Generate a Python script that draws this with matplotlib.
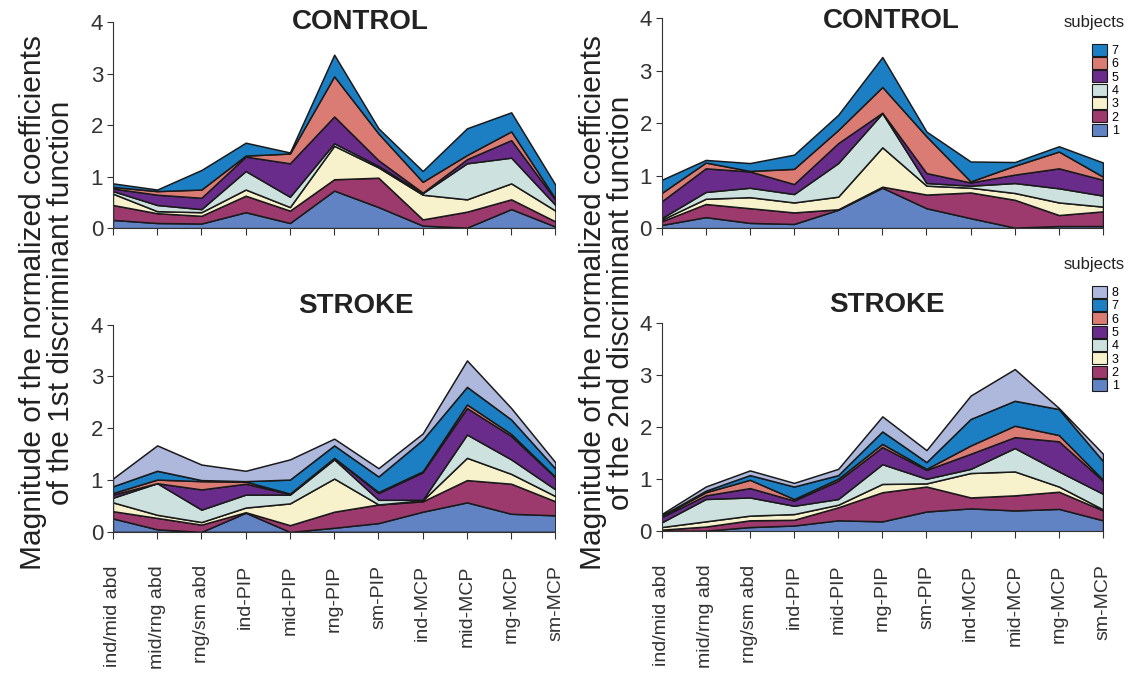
import matplotlib
matplotlib.use('Agg')
import matplotlib.pyplot as plt
from matplotlib.patches import Patch

plt.rcParams['font.family'] = ['Liberation Sans', 'DejaVu Sans']

joints = ['ind/mid abd', 'mid/rng abd', 'rng/sm abd', 'ind-PIP', 'mid-PIP', 'rng-PIP',
          'sm-PIP', 'ind-MCP', 'mid-MCP', 'rng-MCP', 'sm-MCP']

colores = ['#6283C3', '#9C3A6E', '#F7F1CC', '#CDE2DF', '#6A2C8A', '#DB7C74', '#1C7EC3', '#AEB8DD']

# controlo - 1a funcao discriminante (sujeitos 1..7)
ctrl1 = [
    [0.16, 0.10, 0.09, 0.31, 0.10, 0.73, 0.41, 0.05, 0.01, 0.37, 0.03],
    [0.29, 0.19, 0.15, 0.32, 0.24, 0.22, 0.57, 0.12, 0.31, 0.19, 0.10],
    [0.22, 0.04, 0.07, 0.12, 0.07, 0.65, 0.20, 0.48, 0.24, 0.31, 0.21],
    [0.05, 0.12, 0.06, 0.36, 0.20, 0.05, 0.03, 0.03, 0.70, 0.50, 0.11],
    [0.05, 0.20, 0.22, 0.28, 0.65, 0.52, 0.11, 0.01, 0.08, 0.34, 0.10],
    [0.03, 0.07, 0.16, 0.02, 0.19, 0.78, 0.52, 0.21, 0.08, 0.17, 0.02],
    [0.07, 0.03, 0.38, 0.25, 0.02, 0.42, 0.10, 0.21, 0.52, 0.37, 0.27],
]

# controlo - 2a funcao discriminante
ctrl2 = [
    [0.06, 0.21, 0.10, 0.08, 0.35, 0.77, 0.38, 0.19, 0.01, 0.04, 0.04],
    [0.07, 0.25, 0.28, 0.22, 0.01, 0.02, 0.26, 0.49, 0.53, 0.21, 0.28],
    [0.03, 0.10, 0.21, 0.19, 0.24, 0.75, 0.17, 0.09, 0.13, 0.24, 0.09],
    [0.03, 0.13, 0.18, 0.16, 0.64, 0.65, 0.05, 0.04, 0.19, 0.27, 0.21],
    [0.32, 0.45, 0.31, 0.19, 0.38, 0.01, 0.19, 0.06, 0.16, 0.38, 0.30],
    [0.16, 0.11, 0.01, 0.29, 0.25, 0.49, 0.70, 0.02, 0.17, 0.32, 0.06],
    [0.25, 0.05, 0.15, 0.27, 0.29, 0.57, 0.09, 0.38, 0.07, 0.10, 0.27],
]

# AVC - 1a funcao discriminante (sujeitos 1..8)
avc1 = [
    [0.26, 0.05, 0.00, 0.37, 0.00, 0.08, 0.17, 0.39, 0.57, 0.35, 0.32],
    [0.14, 0.22, 0.14, 0.01, 0.13, 0.31, 0.36, 0.20, 0.43, 0.58, 0.27],
    [0.17, 0.06, 0.05, 0.09, 0.42, 0.64, 0.00, 0.02, 0.43, 0.19, 0.10],
    [0.09, 0.61, 0.24, 0.25, 0.17, 0.37, 0.09, 0.01, 0.45, 0.28, 0.13],
    [0.06, 0.00, 0.39, 0.21, 0.01, 0.03, 0.13, 0.53, 0.51, 0.45, 0.23],
    [0.03, 0.07, 0.16, 0.04, 0.01, 0.00, 0.02, 0.02, 0.07, 0.04, 0.01],
    [0.13, 0.17, 0.02, 0.01, 0.27, 0.24, 0.30, 0.61, 0.34, 0.28, 0.16],
    [0.15, 0.49, 0.30, 0.20, 0.39, 0.13, 0.16, 0.12, 0.51, 0.22, 0.12],
]

# AVC - 2a funcao discriminante
avc2 = [
    [0.01, 0.01, 0.08, 0.11, 0.21, 0.19, 0.38, 0.44, 0.40, 0.43, 0.21],
    [0.02, 0.08, 0.13, 0.11, 0.25, 0.56, 0.48, 0.21, 0.29, 0.33, 0.19],
    [0.05, 0.10, 0.09, 0.11, 0.05, 0.16, 0.06, 0.47, 0.46, 0.10, 0.02],
    [0.09, 0.43, 0.35, 0.16, 0.11, 0.38, 0.09, 0.08, 0.45, 0.29, 0.30],
    [0.10, 0.07, 0.18, 0.10, 0.35, 0.33, 0.17, 0.29, 0.21, 0.58, 0.25],
    [0.02, 0.06, 0.16, 0.03, 0.04, 0.06, 0.02, 0.16, 0.22, 0.12, 0.02],
    [0.01, 0.03, 0.09, 0.24, 0.07, 0.24, 0.13, 0.51, 0.48, 0.50, 0.36],
    [0.03, 0.08, 0.09, 0.07, 0.12, 0.29, 0.23, 0.45, 0.61, 0.02, 0.14],
]

fig = plt.figure(figsize=(11.29, 6.75), dpi=100)

# [left, bottom, width, height] em fracao da figura
paineis = [
    (ctrl1, 'CONTROL', [0.100, 0.662, 0.392, 0.305], (0.56, 1.0), False),
    (ctrl2, 'CONTROL', [0.586, 0.662, 0.391, 0.311], (0.52, 0.985), True),
    (avc1, 'STROKE', [0.100, 0.212, 0.392, 0.307], (0.55, 1.09), False),
    (avc2, 'STROKE', [0.586, 0.213, 0.391, 0.308], (0.51, 1.09), True),
]

x = list(range(len(joints)))

for dados, titulo, pos, tpos, com_legenda in paineis:
    ax = fig.add_axes(pos)
    n = len(dados)
    ax.stackplot(x, *dados, colors=colores[:n], edgecolor='#1a1a1a', linewidth=1.1)
    ax.set_xlim(0, len(joints) - 1)
    ax.set_ylim(0, 4)
    ax.set_yticks([0, 1, 2, 3, 4])
    ax.set_xticks(x)
    if pos[1] < 0.5:
        ax.set_xticklabels(joints, rotation=90, fontsize=14, color='#222222')
    else:
        ax.set_xticklabels([])
    ax.tick_params(axis='y', labelsize=16, colors='#333333', length=4, width=0.8, pad=3)
    ax.tick_params(axis='x', length=5, width=0.8, colors='#333333', pad=19)
    for s in ['top', 'right']:
        ax.spines[s].set_visible(False)
    for s in ['left', 'bottom']:
        ax.spines[s].set_color('#333333')
        ax.spines[s].set_linewidth(0.8)
    ax.text(tpos[0], tpos[1], titulo, transform=ax.transAxes, ha='center', va='center',
            fontsize=20, fontweight='bold', color='#222222')

    if com_legenda:
        handles = [Patch(facecolor=colores[i], edgecolor='#1a1a1a', linewidth=0.8, label=str(i + 1))
                   for i in range(n)][::-1]
        if n == 7:
            ytopo = 1 - 45 / 675
            ysub = 1 - 22 / 675
        else:
            ytopo = 1 - 287 / 675
            ysub = 1 - 265 / 675
        fig.text(0.942, ysub, 'subjects', fontsize=12, ha='left', va='center', color='#222222')
        fig.legend(handles=handles, loc='upper left', bbox_to_anchor=(0.967, ytopo + 0.002),
                   frameon=False, fontsize=9, labelspacing=0.0, handlelength=1.2,
                   handleheight=1.12, handletextpad=0.4, borderpad=0, borderaxespad=0)

fig.text(0.042, 0.552, 'Magnitude of the normalized coefficients\nof the 1st discriminant function',
         rotation=90, ha='center', va='center', fontsize=21.5, color='#222222', linespacing=1.0)
fig.text(0.538, 0.552, 'Magnitude of the normalized coefficients\nof the 2nd discriminant function',
         rotation=90, ha='center', va='center', fontsize=21.5, color='#222222', linespacing=1.0)

plt.savefig('out.png', dpi=100)
